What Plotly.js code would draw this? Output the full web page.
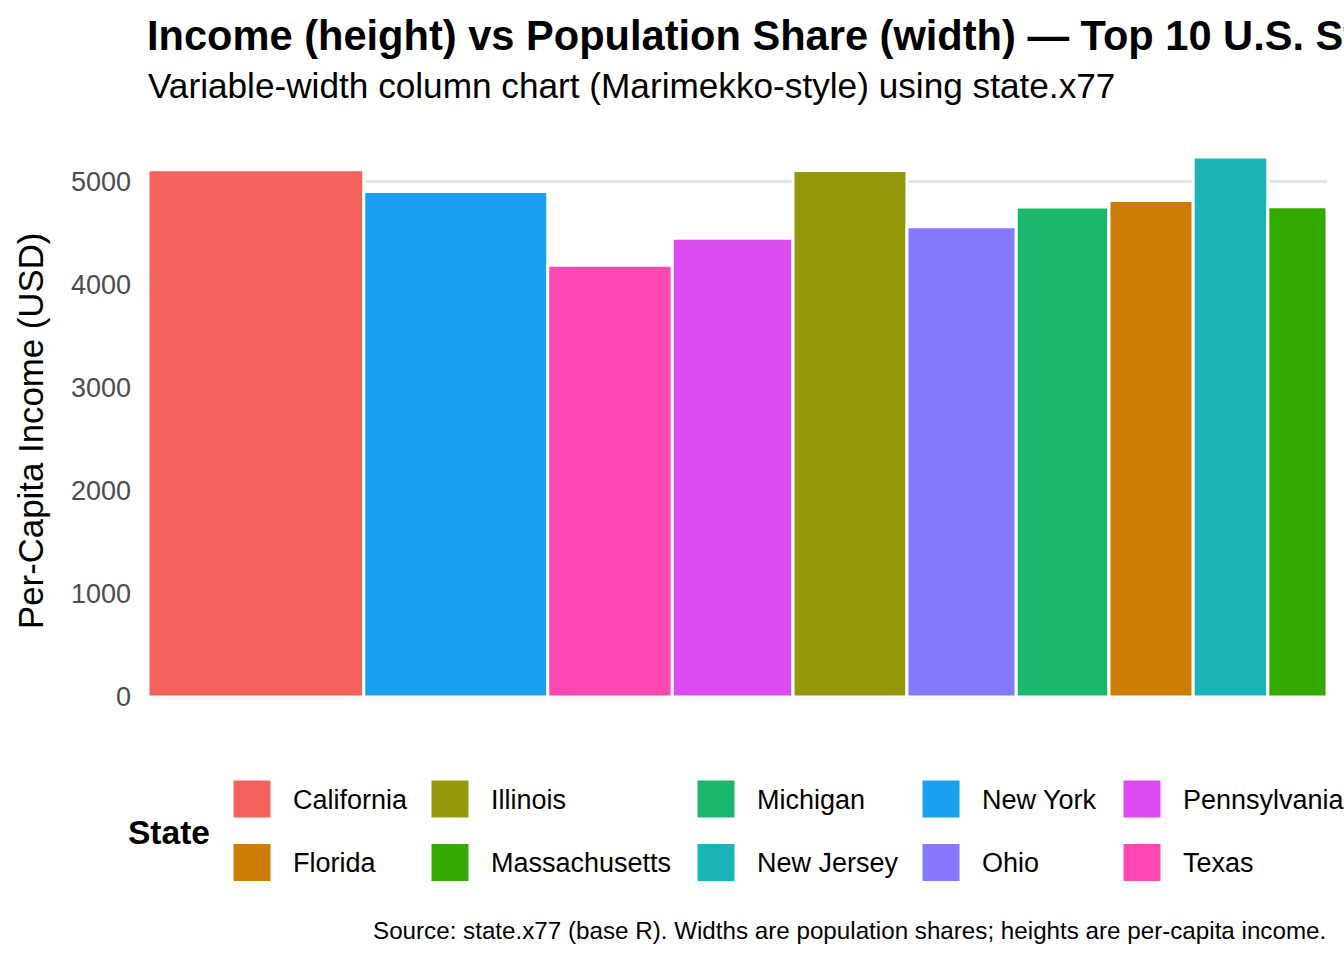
<!DOCTYPE html>
<html>
<head>
<meta charset="utf-8">
<script src="https://cdn.plot.ly/plotly-3.0.1.min.js"></script>
<style>html,body{margin:0;padding:0;background:#fff;}</style>
</head>
<body>
<div id="chart" style="width:1344px;height:960px;"></div>
<script>
// ---- Data (state.x77, top 10 by population) ----
const states = ["California","New York","Texas","Pennsylvania","Illinois","Ohio","Michigan","Florida","New Jersey","Massachusetts"];
const population = [21198,18076,12237,11860,11197,10735,9111,8277,7333,5814];
const income = [5114,4903,4188,4449,5107,4561,4751,4815,5237,4755];
const legendStates = ["California","Florida","Illinois","Massachusetts","Michigan","New Jersey","New York","Ohio","Pennsylvania","Texas"];
const stateColors = ["#F3615B","#CD7D06","#93970A","#33AA00","#1BB76C","#1AB4B8","#18A0F1","#8579FF","#DC4BF0","#FC48B0"];
const yTickVals = [0,1000,2000,3000,4000,5000];
const yTickText = ["0","1000","2000","3000","4000","5000"];

const titleText = "Income (height) vs Population Share (width) \u2014 Top 10 U.S. States";
const subtitleText = "Variable\u2011width column chart (Marimekko\u2011style) using state.x77";
const yTitleText = "Per\u2011Capita Income (USD)";
const legendTitleText = "State";
const captionText = "Source: state.x77 (base R). Widths are population shares; heights are per\u2011capita income.";

// ---- Geometry ----
const W = 1344, H = 960;
const M = {l:148, r:17, t:130, b:236};
const PW = W - M.l - M.r, PH = H - M.t - M.b;
const px2x = px => (px - M.l) / PW;
const py2y = py => (H - M.b - py) / PH;
const FONT = "Liberation Sans, Arial, Helvetica, sans-serif";

const colorOf = s => stateColors[legendStates.indexOf(s)];
const total = population.reduce((a,b)=>a+b,0);
let cum = 0;
const traces = states.map((s,i) => {
  const mid = cum + population[i]/2;
  cum += population[i];
  return {
    type: "bar", name: s,
    x: [mid], y: [income[i]], width: [population[i]],
    marker: {color: colorOf(s), line: {color: "#FFFFFF", width: 3}},
    showlegend: false,
    hovertemplate: s + "<br>Population share: " + (100*population[i]/total).toFixed(1) + "%<br>Income: %{y}<extra></extra>"
  };
});

const ymax = Math.max(...income);
const pad = 0.05 * ymax;

const shapes = [];
const annotations = [];

// subtitle
annotations.push({xref:"paper", yref:"paper", x: px2x(146), y: py2y(85), xanchor:"left", yanchor:"middle",
  text: subtitleText, showarrow:false, font:{family:FONT, size:35.2, color:"#000"}});
// y-axis title
annotations.push({xref:"paper", yref:"paper", x: px2x(30), y: py2y(431), xanchor:"center", yanchor:"middle",
  text: yTitleText, textangle:-90, showarrow:false, font:{family:FONT, size:34.8, color:"#000"}});
// caption
annotations.push({xref:"paper", yref:"paper", x: px2x(1328), y: py2y(930), xanchor:"right", yanchor:"middle",
  text: captionText, showarrow:false, font:{family:FONT, size:24.2, color:"#000"}});
// legend title
annotations.push({xref:"paper", yref:"paper", x: px2x(126), y: py2y(832), xanchor:"left", yanchor:"middle",
  text: "<b>" + legendTitleText + "</b>", showarrow:false, font:{family:FONT, size:33.5, color:"#000"}});

// legend (column-major, 2 rows)
const colX = [233, 431, 697, 922, 1123];
const rowY = [780, 843.5];
legendStates.forEach((s, k) => {
  const c = Math.floor(k/2), r = k % 2;
  const x0 = colX[c], y0 = rowY[r];
  shapes.push({type:"rect", xref:"paper", yref:"paper", x0:px2x(x0), x1:px2x(x0+38), y0:py2y(y0), y1:py2y(y0+38),
    fillcolor: stateColors[k], line:{color:"#FFFFFF", width:1}});
  annotations.push({xref:"paper", yref:"paper", x: px2x(x0+58), y: py2y(y0+19.5), xanchor:"left", yanchor:"middle",
    text: s, showarrow:false, font:{family:FONT, size:27, color:"#000"}});
});

const layout = {
  width: W, height: H,
  margin: M,
  paper_bgcolor: "#FFFFFF", plot_bgcolor: "#FFFFFF",
  barmode: "overlay",
  title: {text: "<b>" + titleText + "</b>", xref:"container", yref:"container",
    x: 147/W, xanchor:"left", y: 1 - 35/H, yanchor:"middle",
    font:{family:FONT, size:41.6, color:"#000"}},
  xaxis: {range:[0,total], showgrid:false, zeroline:false, showticklabels:false, ticks:"", showline:false, fixedrange:true},
  yaxis: {range:[-pad, ymax+pad], tickvals:yTickVals, ticktext:yTickText, showgrid:true, gridcolor:"#E3E3E3", gridwidth:2.6,
    zeroline:false, showline:false, ticks:"", ticklabelstandoff:16,
    tickfont:{family:FONT, size:27, color:"#4D4D4D"}, fixedrange:true},
  shapes: shapes,
  annotations: annotations,
  showlegend: false
};

Plotly.newPlot("chart", traces, layout, {displayModeBar:false, responsive:false});
</script>
</body>
</html>
